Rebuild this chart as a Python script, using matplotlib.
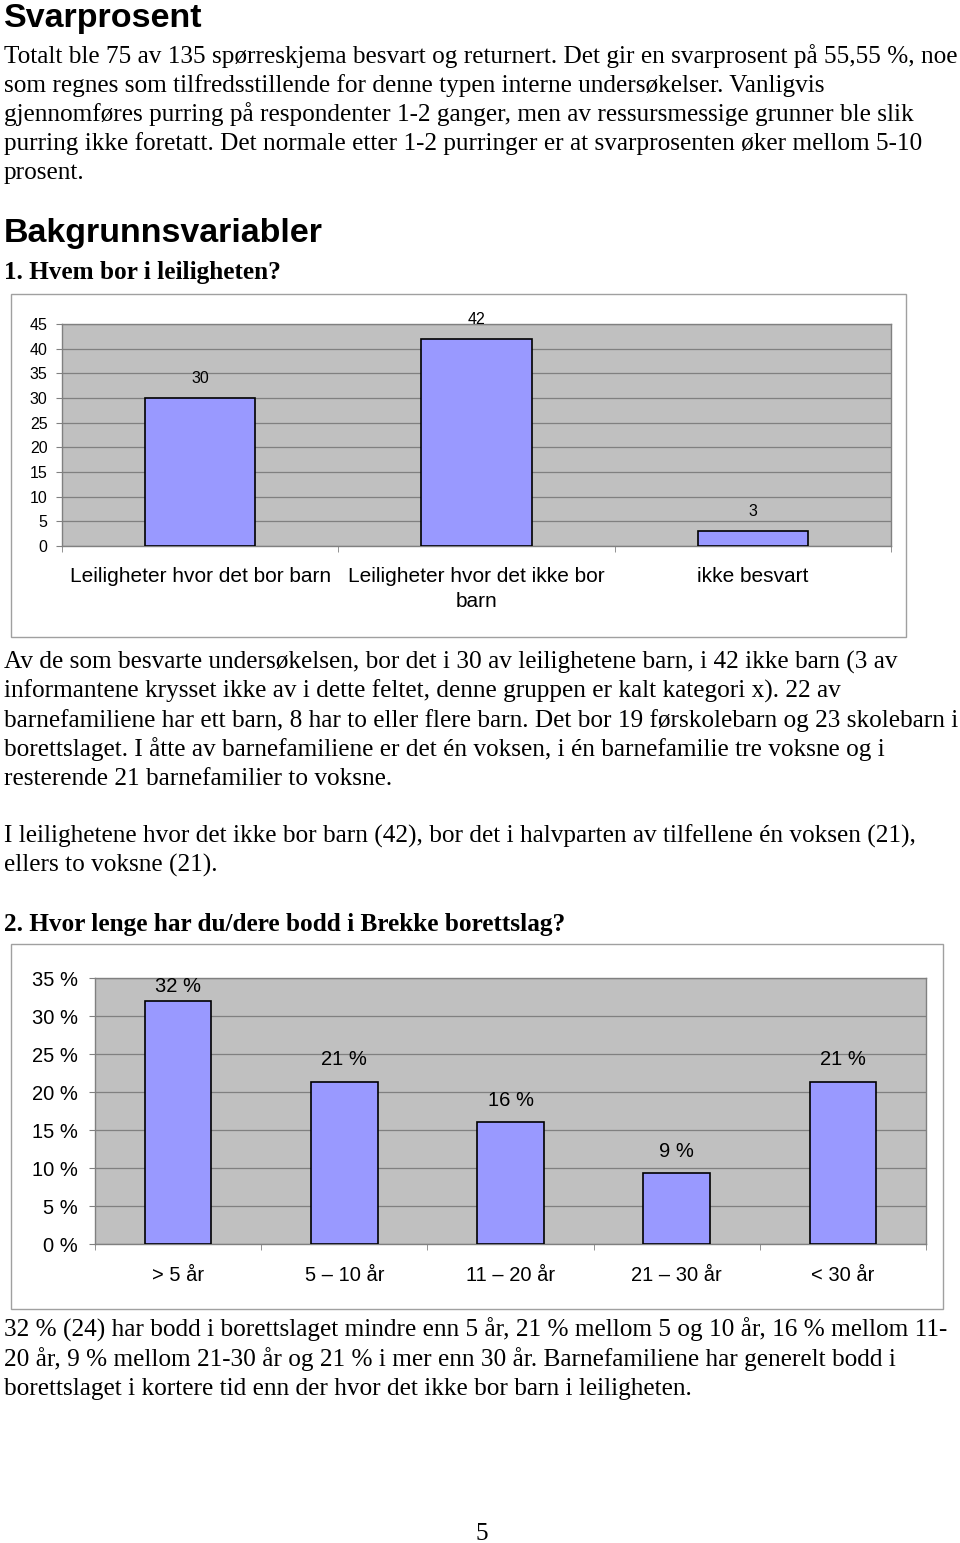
import matplotlib
matplotlib.use("Agg")
import matplotlib.pyplot as plt
from matplotlib.patches import Rectangle

# data
bor_categories = ["Leiligheter hvor det bor barn", "Leiligheter hvor det ikke bor\nbarn", "ikke besvart"]
bor_values = [30, 42, 3]
bor_yticks = [0, 5, 10, 15, 20, 25, 30, 35, 40, 45]

botid_categories = ["> 5 år", "5 – 10 år", "11 – 20 år", "21 – 30 år", "< 30 år"]
botid_values = [32.0, 21.33, 16.0, 9.33, 21.33]
botid_labels = ["32 %", "21 %", "16 %", "9 %", "21 %"]
botid_yticks = [0, 5, 10, 15, 20, 25, 30, 35]

W, H = 960, 1543
SANS = "Liberation Sans"
SERIF = "Liberation Serif"
BODY = 18.2
BAR = "#9999ff"
BG = "#c0c0c0"
GRID = "#808080"

fig = plt.figure(figsize=(W / 100, H / 100), dpi=100)


def txt(x, y, s, **kw):
    # x, y in pixels from top-left, y is the baseline
    kw.setdefault("family", SERIF)
    kw.setdefault("fontsize", BODY)
    fig.text(x / W, 1 - y / H, s, va="baseline", ha=kw.pop("ha", "left"), **kw)


def frame(x0, y0, x1, y1):
    fig.patches.append(Rectangle((x0 / W, 1 - y1 / H), (x1 - x0) / W, (y1 - y0) / H,
                                 transform=fig.transFigure, fill=False,
                                 edgecolor="#a0a0a0", linewidth=1))


def axes_px(x0, y0, x1, y1):
    return fig.add_axes([x0 / W, 1 - y1 / H, (x1 - x0) / W, (y1 - y0) / H])


def style(ax, yticks, ylabels, tick_fs, pad):
    ax.set_facecolor(BG)
    ax.set_yticks(yticks)
    ax.set_yticklabels(ylabels, family=SANS, fontsize=tick_fs)
    ax.set_ylim(yticks[0], yticks[-1])
    ax.yaxis.grid(True, color=GRID, linewidth=0.9)
    ax.set_axisbelow(True)
    for sp in ax.spines.values():
        sp.set_color(GRID)
        sp.set_linewidth(1)
    ax.tick_params(axis="y", length=4.5, color=GRID, pad=pad)
    ax.tick_params(axis="x", which="major", length=0)
    ax.tick_params(axis="x", which="minor", length=4.5, color=GRID)


# page text
txt(4, 27, "Svarprosent", family=SANS, fontsize=24.5, weight="bold")
body1 = [
    "Totalt ble 75 av 135 spørreskjema besvart og returnert. Det gir en svarprosent på 55,55 %, noe",
    "som regnes som tilfredsstillende for denne typen interne undersøkelser. Vanligvis",
    "gjennomføres purring på respondenter 1-2 ganger, men av ressursmessige grunner ble slik",
    "purring ikke foretatt. Det normale etter 1-2 purringer er at svarprosenten øker mellom 5-10",
    "prosent.",
]
for i, line in enumerate(body1):
    txt(4, 63 + 29 * i, line)
txt(4, 242, "Bakgrunnsvariabler", family=SANS, fontsize=24.5, weight="bold")
txt(4, 279, "1. Hvem bor i leiligheten?", weight="bold")

# chart 1
frame(11, 294, 906, 637)
ax1 = axes_px(62, 324, 891, 546)
x1 = list(range(len(bor_values)))
ax1.bar(x1, bor_values, width=0.4, color=BAR, edgecolor="black", linewidth=1.2, zorder=3)
ax1.set_xlim(-0.5, len(bor_values) - 0.5)
ax1.set_xticks(x1)
ax1.set_xticklabels(bor_categories, family=SANS, fontsize=15, va="top", linespacing=1.4)
ax1.set_xticks([i - 0.5 for i in range(len(bor_values) + 1)], minor=True)
style(ax1, bor_yticks, [str(t) for t in bor_yticks], 11.5, 6)
ax1.tick_params(axis="x", which="major", pad=15)
for xi, v in zip(x1, bor_values):
    ax1.annotate(str(v), (xi, v), xytext=(0, 14), textcoords="offset points",
                 ha="center", va="center", family=SANS, fontsize=11.5, annotation_clip=False)

body2 = [
    "Av de som besvarte undersøkelsen, bor det i 30 av leilighetene barn, i 42 ikke barn (3 av",
    "informantene krysset ikke av i dette feltet, denne gruppen er kalt kategori x). 22 av",
    "barnefamiliene har ett barn, 8 har to eller flere barn. Det bor 19 førskolebarn og 23 skolebarn i",
    "borettslaget. I åtte av barnefamiliene er det én voksen, i én barnefamilie tre voksne og i",
    "resterende 21 barnefamilier to voksne.",
]
for i, line in enumerate(body2):
    txt(4, 669 + 29 * i, line)
txt(4, 843, "I leilighetene hvor det ikke bor barn (42), bor det i halvparten av tilfellene én voksen (21),")
txt(4, 872, "ellers to voksne (21).")
txt(4, 931, "2. Hvor lenge har du/dere bodd i Brekke borettslag?", weight="bold")

# chart 2
frame(11, 944, 943, 1309)
ax2 = axes_px(95, 978, 926, 1244)
x2 = list(range(len(botid_values)))
ax2.bar(x2, botid_values, width=0.4, color=BAR, edgecolor="black", linewidth=1.2, zorder=3)
ax2.set_xlim(-0.5, len(botid_values) - 0.5)
ax2.set_xticks(x2)
ax2.set_xticklabels(botid_categories, family=SANS, fontsize=14.5)
ax2.set_xticks([i - 0.5 for i in range(len(botid_values) + 1)], minor=True)
style(ax2, botid_yticks, [f"{t} %" for t in botid_yticks], 14.5, 8)
ax2.tick_params(axis="x", which="major", pad=15.5)
top2 = botid_yticks[-1]
for xi, v, lab in zip(x2, botid_values, botid_labels):
    ax2.text(xi, min(v + 2.9, top2 - 1.1), lab, ha="center", va="center",
             family=SANS, fontsize=14.5)

body3 = [
    "32 % (24) har bodd i borettslaget mindre enn 5 år, 21 % mellom 5 og 10 år, 16 % mellom 11-",
    "20 år, 9 % mellom 21-30 år og 21 % i mer enn 30 år. Barnefamiliene har generelt bodd i",
    "borettslaget i kortere tid enn der hvor det ikke bor barn i leiligheten.",
]
for i, line in enumerate(body3):
    txt(4, 1337 + 29 * i, line)
txt(482, 1540, "5", ha="center")

fig.savefig("out.png", dpi=100)
